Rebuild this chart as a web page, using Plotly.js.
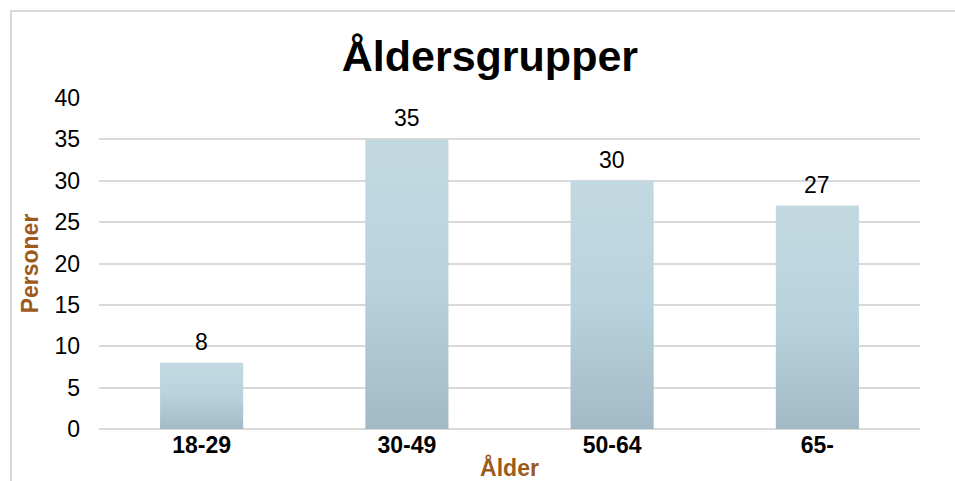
<!DOCTYPE html>
<html>
<head>
<meta charset="utf-8">
<script src="https://cdn.plot.ly/plotly-3.0.1.min.js"></script>
<style>
  html, body { margin: 0; padding: 0; background: #fff; overflow: hidden; }
  #chart { position: absolute; left: 0; top: 0; width: 955px; height: 481px; }
  #frame { position: absolute; left: 10px; top: 10px; width: 2000px; height: 2000px;
           border: 2px solid #d9d9d9; pointer-events: none; }
</style>
</head>
<body>
<svg width="0" height="0" style="position:absolute">
  <defs>
    <linearGradient id="barGrad" x1="0" y1="0" x2="0" y2="1">
      <stop offset="0" stop-color="#c3d9e1"/>
      <stop offset="0.5" stop-color="#b8d3dd"/>
      <stop offset="1" stop-color="#a2bac5"/>
    </linearGradient>
  </defs>
</svg>
<div id="chart"></div>
<div id="frame"></div>
<script>
const categories = ["18-29", "30-49", "50-64", "65-"];
const values = [8, 35, 30, 27];
const yTicks = [0, 5, 10, 15, 20, 25, 30, 35, 40];

const chartTitle = "Åldersgrupper";
const xTitle = "Ålder";
const yTitle = "Personer";

const brown = "#9c5b1c";
const FONT = "Liberation Sans, Arial, sans-serif";

const trace = {
  type: "bar",
  x: categories,
  y: values,
  marker: { color: "#b8d3dd", line: { width: 0 } },
  hoverinfo: "none"
};

const annotations = categories.map((c, i) => ({
  x: c, y: values[i], text: String(values[i]),
  xref: "x", yref: "y", showarrow: false,
  yanchor: "bottom", yshift: 6,
  font: { family: FONT, size: 23, color: "#000" }
}));

const layout = {
  width: 955, height: 481,
  margin: { l: 99, r: 35, t: 98, b: 52 },
  paper_bgcolor: "rgba(0,0,0,0)",
  plot_bgcolor: "rgba(0,0,0,0)",
  bargap: 0.595,
  showlegend: false,
  title: {
    text: "<b>" + chartTitle + "</b>",
    font: { family: FONT, size: 43, color: "#000" },
    xref: "container", x: 0.513, xanchor: "center",
    yref: "container", y: 1 - 56 / 481, yanchor: "middle"
  },
  xaxis: {
    type: "category",
    tickfont: { family: FONT, size: 23, color: "#000", weight: "bold" },
    showgrid: false, zeroline: false, showline: false,
    ticks: "", ticklabelstandoff: 0,
    title: {
      text: "<b>" + xTitle + "</b>",
      font: { family: FONT, size: 23, color: brown },
      standoff: 3
    }
  },
  yaxis: {
    range: [0, 40],
    tickvals: yTicks,
    tickfont: { family: FONT, size: 23, color: "#000" },
    showgrid: true, gridcolor: "#d9d9d9", gridwidth: 2,
    zeroline: true, zerolinecolor: "#d9d9d9", zerolinewidth: 2,
    showline: false, ticks: "", ticklabelstandoff: 18,
    title: {
      text: "<b>" + yTitle + "</b>",
      font: { family: FONT, size: 23, color: brown },
      standoff: 9
    }
  },
  annotations: annotations
};

function applyGradient() {
  document.querySelectorAll("#chart .bars .point path").forEach(p => {
    p.style.fill = "url(#barGrad)";
  });
}

Plotly.newPlot("chart", [trace], layout, { staticPlot: true, displayModeBar: false })
  .then(applyGradient);
</script>
</body>
</html>
